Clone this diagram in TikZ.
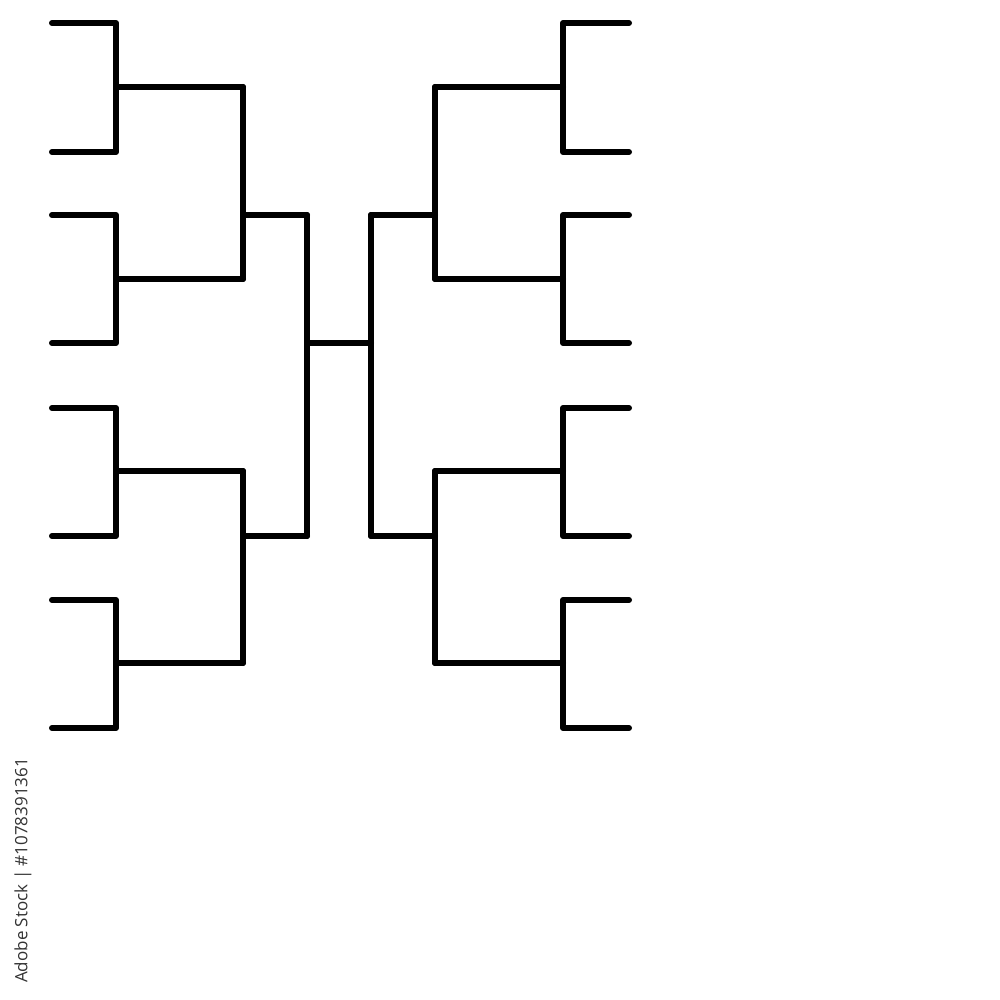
\documentclass[tikz,border=0pt]{standalone}
\usepackage{fontspec}
\newfontfamily\wmfont{Open Sans}
\begin{document}
\begin{tikzpicture}[x=1pt,y=-1pt,
  br/.style={line width=6pt,line cap=round,line join=round,draw=black},
  wm/.style={font=\wmfont\fontsize{17}{20}\selectfont,text=black!80,rotate=90,inner sep=0pt}]
\fill[white] (0,0) rectangle (1000,1000);
\useasboundingbox (0,0) rectangle (1000,1000);
% left side, round 1
\foreach \a/\b/\m in {23/152/87,215/343/279,408/536/471,600/728/663}{
  \draw[br] (52,\a) -| (116,\b) -- (52,\b);
  \draw[br] (116,\m) -- (243,\m);
}
% left round 2
\draw[br] (243,87) -- (243,279);
\draw[br] (243,471) -- (243,663);
\draw[br] (243,215) -- (307,215);
\draw[br] (243,536) -- (307,536);
% left round 3
\draw[br] (307,215) -- (307,536);
\coordinate (final) at (307,343);
\coordinate (finalR) at (371,343);
\draw[br] (final) -- (finalR);
% right round 3
\draw[br] (371,215) -- (371,536);
\draw[br] (371,215) -- (435,215);
\draw[br] (371,536) -- (435,536);
% right round 2
\draw[br] (435,87) -- (435,279);
\draw[br] (435,471) -- (435,663);
% right side, round 1
\foreach \a/\b/\m in {23/152/87,215/343/279,408/536/471,600/728/663}{
  \draw[br] (629,\a) -| (563,\b) -- (629,\b);
  \draw[br] (563,\m) -- (435,\m);
}
\node[wm,anchor=west] (wmtext) at (23,983) {Adobe Stock | \#1078391361};
\end{tikzpicture}
\end{document}
